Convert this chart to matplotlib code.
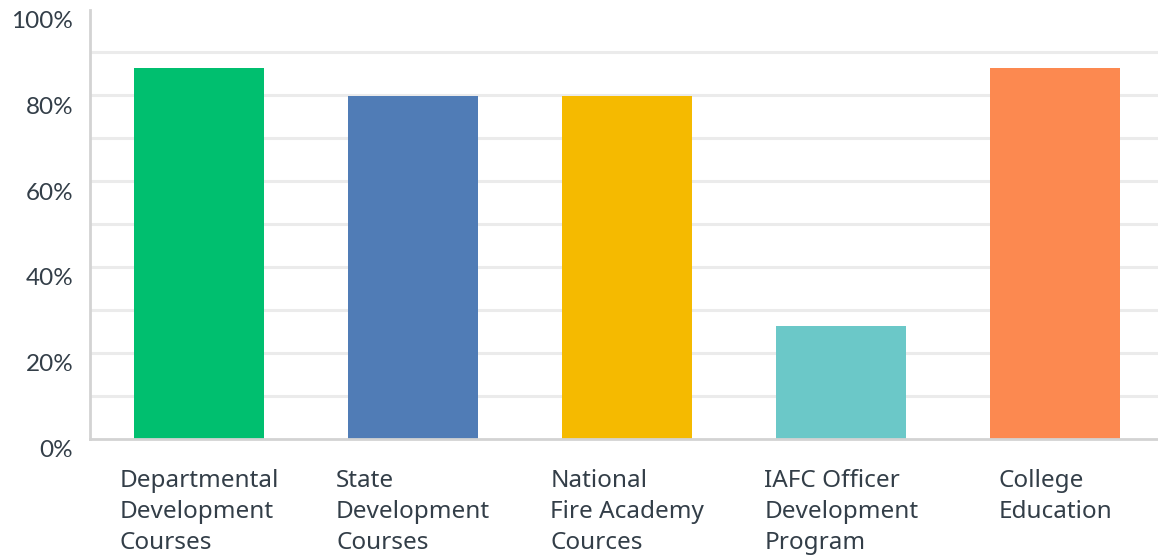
import matplotlib.pyplot as plt
import matplotlib.transforms as mtransforms
import numpy as np

categories = ["Departmental\nDevelopment\nCourses",
              "State\nDevelopment\nCourses",
              "National\nFire Academy\nCources",
              "IAFC Officer\nDevelopment\nProgram",
              "College\nEducation"]
values = [86.4, 79.8, 79.8, 26.2, 86.4]
colors = ["#00bf6f", "#507cb6", "#f5ba00", "#6bc8c8", "#fc8950"]
yticks = [0, 20, 40, 60, 80, 100]
ytick_labels = ["0%", "20%", "40%", "60%", "80%", "100%"]

text_color = "#333e48"

fig = plt.figure(figsize=(11.58, 5.56), dpi=100)
ax = fig.add_axes([90 / 1158, 117.5 / 556, 1068 / 1158, 429 / 556])

x = np.arange(len(categories))
ax.bar(x, values, width=0.607, color=colors, zorder=3)

ax.set_xlim(-0.509, 4.479)
ax.set_ylim(0, 100)

# light grid every 10%
for g in range(10, 100, 10):
    ax.axhline(g, color="#ebebeb", lw=2.2, zorder=1)

ax.set_yticks(yticks)
ax.set_yticklabels(ytick_labels, fontsize=17.5, color=text_color, family="Lato")
ax.tick_params(axis="y", length=0, pad=12)
offset = mtransforms.ScaledTranslation(0, -0.10, fig.dpi_scale_trans)
for lbl in ax.get_yticklabels():
    lbl.set_transform(lbl.get_transform() + offset)

ax.set_xticks(x)
ax.set_xticklabels(categories, fontsize=17.5, color=text_color, family="Noto Sans",
                   linespacing=1.38, va="top")
for lbl in ax.get_xticklabels():
    lbl.set_multialignment("left")
ax.tick_params(axis="x", length=0, pad=22)

for side in ["top", "right"]:
    ax.spines[side].set_visible(False)
for side in ["left", "bottom"]:
    ax.spines[side].set_color("#d3d3d3")
    ax.spines[side].set_linewidth(2)
ax.spines["bottom"].set_zorder(4)

fig.savefig("out.png", dpi=100, facecolor="white")
